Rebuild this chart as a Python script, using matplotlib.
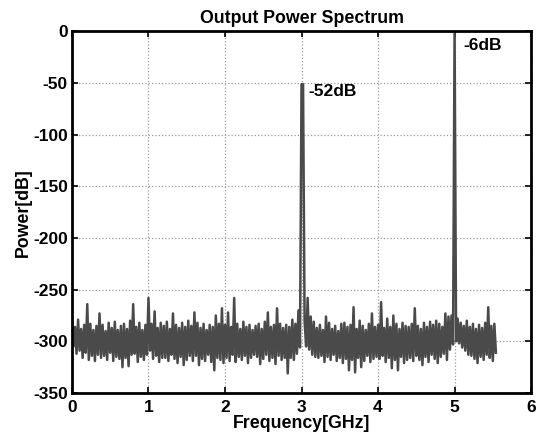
import numpy as np
import matplotlib

matplotlib.use("Agg")
import matplotlib.pyplot as plt

plt.rcParams["font.family"] = ["Liberation Sans", "DejaVu Sans"]
plt.rcParams["font.weight"] = "bold"
plt.rcParams["axes.unicode_minus"] = False

# noise floor: upper and lower edge of the trace
# every 0.04 GHz (0.00 .. 5.52 GHz); the two tones sit in the upper edge
freq_step = 0.04
noise_top = [
    -281, -286, -279, -288, -284, -264, -283, -289, -285, -273,
    -284, -290, -282, -287, -281, -289, -285, -283, -288, -280,
    -264, -286, -282, -289, -284, -258, -283, -271, -287, -282,
    -285, -281, -288, -273, -284, -287, -282, -286, -280, -285,
    -272, -282, -287, -283, -289, -284, -286, -275, -283, -268,
    -284, -272, -286, -258, -283, -288, -281, -286, -284, -289,
    -285, -283, -288, -281, -272, -286, -284, -268, -283, -287,
    -284, -286, -279, -283, -270, -51, -280, -258, -276, -281,
    -287, -284, -289, -276, -282, -288, -285, -290, -283, -282,
    -286, -284, -267, -288, -280, -285, -289, -283, -273, -286,
    -284, -262, -287, -278, -286, -275, -283, -288, -282, -285,
    -286, -283, -268, -285, -288, -282, -286, -281, -284, -280,
    -283, -286, -273, -276, -275, -2, -278, -282, -285, -280,
    -286, -283, -288, -284, -287, -282, -267, -285, -283,
]
noise_bottom = [
    -305, -312, -309, -316, -311, -318, -314, -319, -313, -316,
    -314, -318, -311, -319, -315, -317, -325, -316, -324, -313,
    -312, -320, -315, -318, -313, -309, -317, -314, -320, -316,
    -316, -319, -313, -317, -321, -315, -323, -318, -314, -319,
    -314, -323, -317, -319, -313, -320, -328, -316, -318, -321,
    -316, -319, -313, -320, -315, -318, -314, -321, -316, -313,
    -315, -322, -317, -313, -319, -316, -322, -314, -318, -316,
    -331, -316, -318, -312, -306, -51, -305, -308, -313, -315,
    -316, -314, -320, -315, -318, -313, -319, -316, -321, -317,
    -328, -318, -330, -316, -325, -319, -314, -320, -317, -315,
    -317, -314, -320, -316, -326, -318, -328, -315, -321, -318,
    -316, -319, -314, -318, -323, -315, -320, -313, -317, -321,
    -315, -312, -318, -308, -303, -300, -302, -306, -309, -313,
    -314, -317, -321, -315, -318, -313, -316, -319, -311,
]

labels = ["-52dB", "-6dB"]
label_freq = [3.09, 5.12]
label_db = [-58, -14]


def main() -> None:
    n = len(noise_top)
    f = np.arange(n) * freq_step
    # trace alternates between the top and bottom edge
    x = np.empty(2 * n)
    y = np.empty(2 * n)
    x[0::2] = f
    x[1::2] = f + freq_step / 2
    y[0::2] = noise_top
    y[1::2] = noise_bottom

    fig = plt.figure(figsize=(5.37, 4.34), dpi=100)
    ax = fig.add_axes([0.134, 0.0945, 0.855, 0.833])
    ax.plot(x, y, color="#4a4a4a", linewidth=1.8)

    for txt, fx, fy in zip(labels, label_freq, label_db):
        ax.text(fx, fy, txt, fontsize=12.5, fontweight="bold", va="center")

    ax.set_xlim(0, 6)
    ax.set_ylim(-350, 0)
    ax.set_xticks(range(0, 7))
    ax.set_yticks(range(-350, 1, 50))
    ax.grid(True, linestyle=":", color="#9a9a9a", linewidth=0.9)
    ax.tick_params(direction="in", length=4, width=1.2, labelsize=12.5,
                   top=True, right=True, pad=3)
    ax.tick_params(axis="x", pad=5)
    for lab in ax.get_xticklabels() + ax.get_yticklabels():
        lab.set_fontweight("bold")
    for sp in ax.spines.values():
        sp.set_linewidth(2)

    ax.set_title("Output Power Spectrum", fontsize=12.8, fontweight="bold",
                 pad=6)
    ax.set_xlabel("Frequency[GHz]", fontsize=12.8, fontweight="bold",
                  labelpad=0)
    ax.set_ylabel("Power[dB]", fontsize=12.8, fontweight="bold", labelpad=1)

    fig.savefig("out.png", dpi=100)
    plt.close(fig)


if __name__ == "__main__":
    main()
